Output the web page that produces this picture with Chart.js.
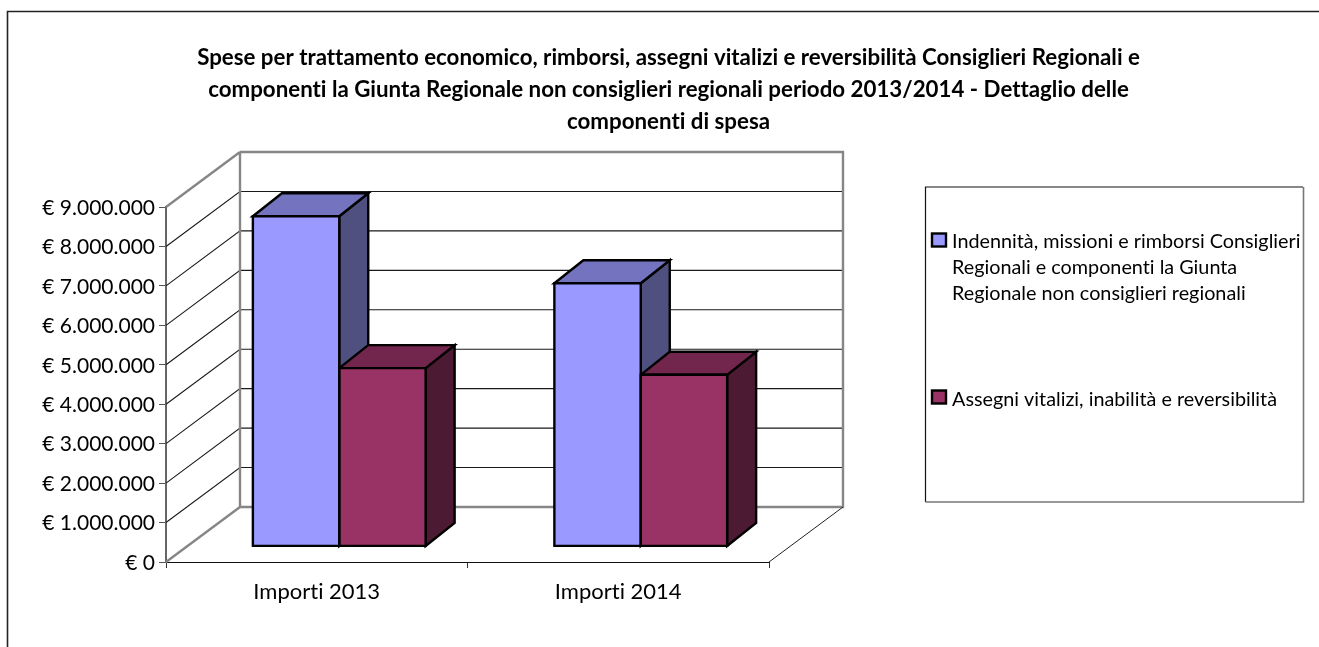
<!DOCTYPE html>
<html><head><meta charset="utf-8">
<style>html,body{margin:0;padding:0;background:#fff;overflow:hidden}#w{width:1319px;height:647px;position:relative}</style>
<script src="https://cdn.jsdelivr.net/npm/chart.js@4/dist/chart.umd.min.js"></script>
</head><body><div id="w"><canvas id="c"></canvas></div>
<script>
const categories = ['Importi 2013', 'Importi 2014'];
const indennita = [8370000, 6670000];
const assegni = [4520000, 4350000];
const legendLinesIndennita = ['Indennità, missioni e rimborsi Consiglieri', 'Regionali e componenti la Giunta', 'Regionale non consiglieri regionali'];
const legendLinesAssegni = ['Assegni vitalizi, inabilità e reversibilità'];
const titleLines = [
  'Spese per trattamento economico, rimborsi, assegni vitalizi e reversibilità Consiglieri Regionali e',
  'componenti la Giunta Regionale non consiglieri regionali periodo 2013/2014 - Dettaglio delle',
  'componenti di spesa'
];
const FONT = 'Lato, Carlito, Calibri, sans-serif';
const WALL = {dx: 74, dy: -55};
const BAR_OFF = {dx: 22.5, dy: -15.6};
const BAR_DEPTH = {dx: 29, dy: -23};
const shades = [
  {front: '#9999FF', top: '#7373BF', side: '#4F4F80'},
  {front: '#993366', top: '#73264D', side: '#4D1A33'}
];

function line(ctx, pts, color, w) {
  ctx.beginPath();
  pts.forEach((p, i) => i ? ctx.lineTo(p[0], p[1]) : ctx.moveTo(p[0], p[1]));
  ctx.strokeStyle = color; ctx.lineWidth = w; ctx.stroke();
}
function poly(ctx, pts, fill) {
  ctx.beginPath();
  pts.forEach((p, i) => i ? ctx.lineTo(p[0], p[1]) : ctx.moveTo(p[0], p[1]));
  ctx.closePath();
  if (fill) { ctx.fillStyle = fill; ctx.fill(); }
  ctx.strokeStyle = '#000'; ctx.lineWidth = 2.4; ctx.lineJoin = 'miter'; ctx.stroke();
}

const scene3d = {
  id: 'scene3d',
  afterLayout(chart) {
    chart.titleBlock.left = 18;
    chart.titleBlock.right = 1319;
  },
  beforeDraw(chart) {
    const ctx = chart.ctx;
    ctx.letterSpacing = '0.001px';
    ctx.save();
    line(ctx, [[7.5, 647], [7.5, 11.5], [1319, 11.5]], '#222', 1.6);
    ctx.restore();
  },
  beforeDatasetsDraw(chart) {
    const ctx = chart.ctx, y = chart.scales.y, a = chart.chartArea;
    const L = a.left, R = a.right, dx = WALL.dx, dy = WALL.dy;
    ctx.save();
    y.ticks.forEach(t => {
      const p = y.getPixelForValue(t.value);
      if (t.value > 0 && t.value < y.max) {
        line(ctx, [[L, p], [L + dx, p + dy], [R + dx, p + dy]], '#1a1a1a', 1.1);
      }
    });
    const top = y.getPixelForValue(y.max), bot = y.getPixelForValue(0);
    line(ctx, [[L, bot], [L + dx, bot + dy]], '#868686', 2.4);
    line(ctx, [[L, top], [L + dx, top + dy]], '#868686', 2.4);
    line(ctx, [[L + dx, top + dy], [R + dx, top + dy], [R + dx, bot + dy], [L + dx, bot + dy], [L + dx, top + dy]], '#868686', 2.4);
    line(ctx, [[R, bot], [R + dx, bot + dy]], '#222', 1);

    chart.data.datasets.forEach((ds, i) => {
      chart.getDatasetMeta(i).data.forEach(el => {
        const x0 = el.x - el.width / 2 + BAR_OFF.dx, x1 = el.x + el.width / 2 + BAR_OFF.dx;
        const yT = el.y + BAR_OFF.dy, yB = el.base + BAR_OFF.dy;
        const ddx = BAR_DEPTH.dx, ddy = BAR_DEPTH.dy;
        poly(ctx, [[x1, yT], [x1 + ddx, yT + ddy], [x1 + ddx, yB + ddy], [x1, yB]], shades[i].side);
        poly(ctx, [[x0, yT], [x0 + ddx, yT + ddy], [x1 + ddx, yT + ddy], [x1, yT]], shades[i].top);
      });
    });
    ctx.restore();
    ctx.save();
    ctx.translate(BAR_OFF.dx, BAR_OFF.dy);
  },
  afterDatasetsDraw(chart) {
    const ctx = chart.ctx;
    // outline the front faces the library just filled (still in the shifted plane)
    chart.data.datasets.forEach((ds, i) => {
      chart.getDatasetMeta(i).data.forEach(el => {
        const x0 = el.x - el.width / 2, x1 = el.x + el.width / 2;
        poly(ctx, [[x0, el.y], [x1, el.y], [x1, el.base], [x0, el.base]]);
      });
    });
    ctx.restore();
    ctx.save();
    // legend box
    line(ctx, [[925.5, 502], [925.5, 187], [1303, 187]], '#111', 1.2);
    line(ctx, [[1303.5, 187], [1303.5, 502], [925.5, 502]], '#777', 1.6);
    ctx.font = '19.8px ' + FONT;
    ctx.textBaseline = 'alphabetic';
    const items = [
      {lines: legendLinesIndennita, swatchY: 233.5, base: 247.5, color: shades[0].front},
      {lines: legendLinesAssegni, swatchY: 390.5, base: 405.5, color: shades[1].front}
    ];
    items.forEach(it => {
      ctx.fillStyle = it.color;
      ctx.fillRect(932, it.swatchY, 14, 13);
      ctx.strokeStyle = '#000'; ctx.lineWidth = 2.4;
      ctx.strokeRect(932, it.swatchY, 14, 13);
      ctx.fillStyle = '#000';
      it.lines.forEach((t, k) => ctx.fillText(t, 952, it.base + k * 26));
    });
    ctx.restore();
  }
};

new Chart(document.getElementById('c'), {
  type: 'bar',
  data: {
    labels: categories,
    datasets: [
      {label: legendLinesIndennita.join(' '), data: indennita, backgroundColor: shades[0].front, borderWidth: 0},
      {label: legendLinesAssegni.join(' '), data: assegni, backgroundColor: shades[1].front, borderWidth: 0}
    ]
  },
  options: {
    responsive: true, maintainAspectRatio: false, animation: false,
    layout: {padding: {left: 0, top: 0, right: 550, bottom: 35}},
    datasets: {bar: {categoryPercentage: 0.573, barPercentage: 1}},
    plugins: {
      legend: {display: false},
      tooltip: {enabled: false},
      title: {
        display: true, text: titleLines, color: '#000',
        font: {family: FONT, size: 22.3, weight: 'bold', lineHeight: 32 / 22.3},
        padding: {top: 42, bottom: 69}
      }
    },
    scales: {
      x: {
        grid: {display: true, drawOnChartArea: false, drawTicks: true, tickLength: 6, color: '#333'},
        border: {color: '#111', width: 1},
        ticks: {color: '#000', font: {family: FONT, size: 22}, padding: 11, maxRotation: 0},
        afterFit(s) { s.height = 50; }
      },
      y: {
        min: 0, max: 9000000,
        afterBuildTicks(s) { s.ticks = [0,1,2,3,4,5,6,7,8,9].map(v => ({value: v * 1000000})); },
        grid: {display: true, drawOnChartArea: false, drawTicks: true, tickLength: 7, color: '#555'},
        border: {color: '#666', width: 2},
        ticks: {color: '#000', font: {family: FONT, size: 21}, padding: 4, labelOffset: 1,
          callback: v => '€ ' + String(v).replace(/\B(?=(\d{3})+$)/g, '.')},
        afterFit(s) { s.width = 166; }
      }
    }
  },
  plugins: [scene3d]
});
</script></body></html>
